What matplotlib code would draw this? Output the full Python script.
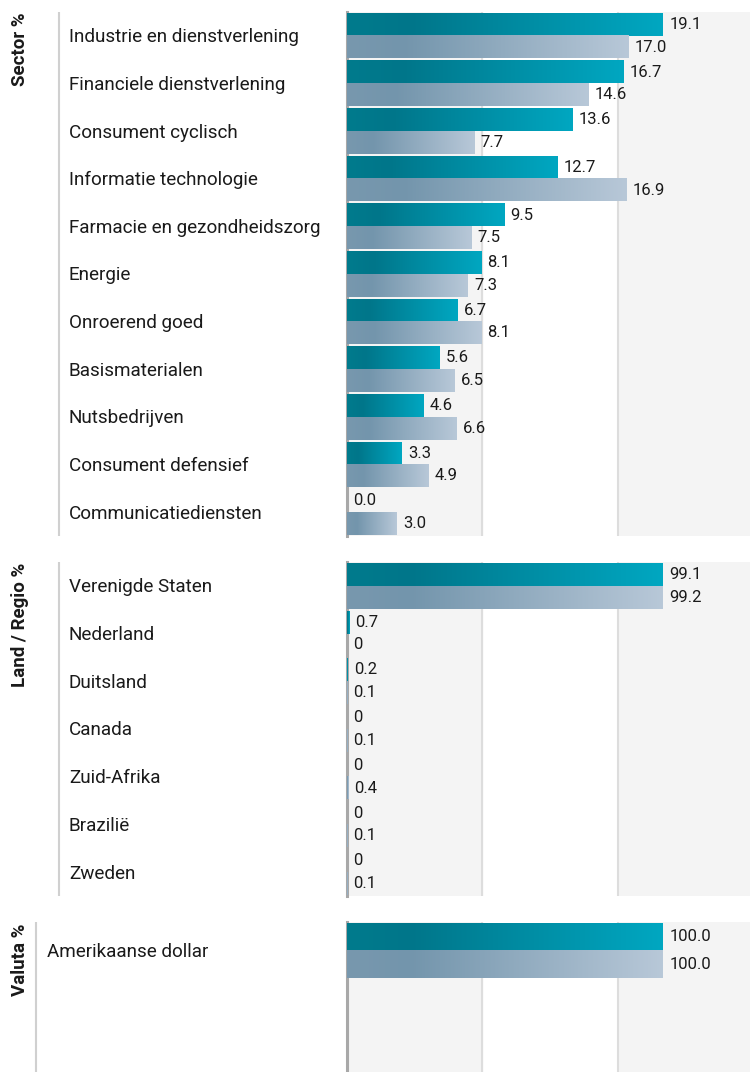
import matplotlib
matplotlib.use('Agg')
import matplotlib.pyplot as plt
import numpy as np
from matplotlib.colors import LinearSegmentedColormap
from matplotlib.patches import Rectangle

plt.rcParams['font.family'] = ['Roboto', 'DejaVu Sans']

# Data
sector_names = ['Industrie en dienstverlening', 'Financiele dienstverlening', 'Consument cyclisch',
                'Informatie technologie', 'Farmacie en gezondheidszorg', 'Energie', 'Onroerend goed',
                'Basismaterialen', 'Nutsbedrijven', 'Consument defensief', 'Communicatiediensten']
sector_fund = [19.1, 16.7, 13.6, 12.7, 9.5, 8.1, 6.7, 5.6, 4.6, 3.3, 0.0]
sector_bench = [17.0, 14.6, 7.7, 16.9, 7.5, 7.3, 8.1, 6.5, 6.6, 4.9, 3.0]
sector_fund_lbl = ['19.1', '16.7', '13.6', '12.7', '9.5', '8.1', '6.7', '5.6', '4.6', '3.3', '0.0']
sector_bench_lbl = ['17.0', '14.6', '7.7', '16.9', '7.5', '7.3', '8.1', '6.5', '6.6', '4.9', '3.0']

land_names = ['Verenigde Staten', 'Nederland', 'Duitsland', 'Canada', 'Zuid-Afrika', 'Brazilië', 'Zweden']
land_fund = [99.1, 0.7, 0.2, 0, 0, 0, 0]
land_bench = [99.2, 0, 0.1, 0.1, 0.4, 0.1, 0.1]
land_fund_lbl = ['99.1', '0.7', '0.2', '0', '0', '0', '0']
land_bench_lbl = ['99.2', '0', '0.1', '0.1', '0.4', '0.1', '0.1']

valuta_names = ['Amerikaanse dollar']
valuta_fund = [100.0]
valuta_bench = [100.0]
valuta_fund_lbl = ['100.0']
valuta_bench_lbl = ['100.0']

W, H = 750, 1072
fig = plt.figure(figsize=(W / 100, H / 100), dpi=100)

teal = LinearSegmentedColormap.from_list('teal', [(0, '#007b8d'), (0.2, '#00768a'), (1, '#00a7c1')])
grey = LinearSegmentedColormap.from_list('grey', [(0, '#7898ae'), (0.2, '#7395ac'), (1, '#b8c8d8')])
grad = np.linspace(0, 1, 256).reshape(1, -1)

text_col = '#1a1a1a'


def panel(title, names, fund, bench, fund_lbl, bench_lbl, top, bottom, pitch, line_x, label_x):
    h = bottom - top
    nrows = h / pitch
    # bar area
    ax = fig.add_axes([347 / W, 1 - bottom / H, (W - 347) / W, h / H])
    xmax = max(max(fund), max(bench)) * 403 / 316
    ax.add_patch(Rectangle((0, 0), 0.335, 1, transform=ax.transAxes, color='#f4f4f4', zorder=0))
    ax.add_patch(Rectangle((0.672, 0), 0.328, 1, transform=ax.transAxes, color='#f4f4f4', zorder=0))
    for gx in [0.335, 0.672]:
        ax.plot([gx, gx], [0, 1], transform=ax.transAxes, color='#dddddd', lw=1.5, zorder=1)
    for i in range(len(names)):
        for v, lbl, cm, y0 in [(fund[i], fund_lbl[i], teal, i + 0.025), (bench[i], bench_lbl[i], grey, i + 0.5)]:
            y1 = y0 + 0.475
            if v > 0:
                ax.imshow(grad, extent=[0, v, y1, y0], cmap=cm, aspect='auto',
                          interpolation='bilinear', zorder=3)
            ax.annotate(lbl, (v, (y0 + y1) / 2), xytext=(4.5, 0), textcoords='offset points',
                        ha='left', va='center', fontsize=12, color=text_col, zorder=4)
    ax.set_xlim(0, xmax)
    ax.set_ylim(nrows, 0)
    ax.set_xticks([])
    ax.set_yticks([])
    for s in ['top', 'right', 'bottom']:
        ax.spines[s].set_visible(False)
    ax.spines['left'].set_color('#a8a8a8')
    ax.spines['left'].set_linewidth(2.2)
    ax.spines['left'].set_zorder(2)

    # label area
    lab = fig.add_axes([0, 1 - bottom / H, 346 / W, h / H])
    lab.set_xlim(0, 346)
    lab.set_ylim(nrows, 0)
    lab.axis('off')
    lab.plot([line_x, line_x], [0, nrows], color='#d0d0d0', lw=1.5)
    lab.text(20, 0.02, title, rotation=90, ha='center', va='top', fontsize=13.5,
             fontweight='bold', color=text_col)
    for i, n in enumerate(names):
        lab.text(label_x, i + 0.53, n, ha='left', va='center', fontsize=13.6, color=text_col)


panel('Sector %', sector_names, sector_fund, sector_bench, sector_fund_lbl, sector_bench_lbl,
      12, 536, 524 / 11, 59, 69)
panel('Land / Regio %', land_names, land_fund, land_bench, land_fund_lbl, land_bench_lbl,
      562, 896, 334 / 7, 59, 69)
panel('Valuta %', valuta_names, valuta_fund, valuta_bench, valuta_fund_lbl, valuta_bench_lbl,
      922, 1072, 57, 36, 47)

fig.savefig('out.png', dpi=100)
